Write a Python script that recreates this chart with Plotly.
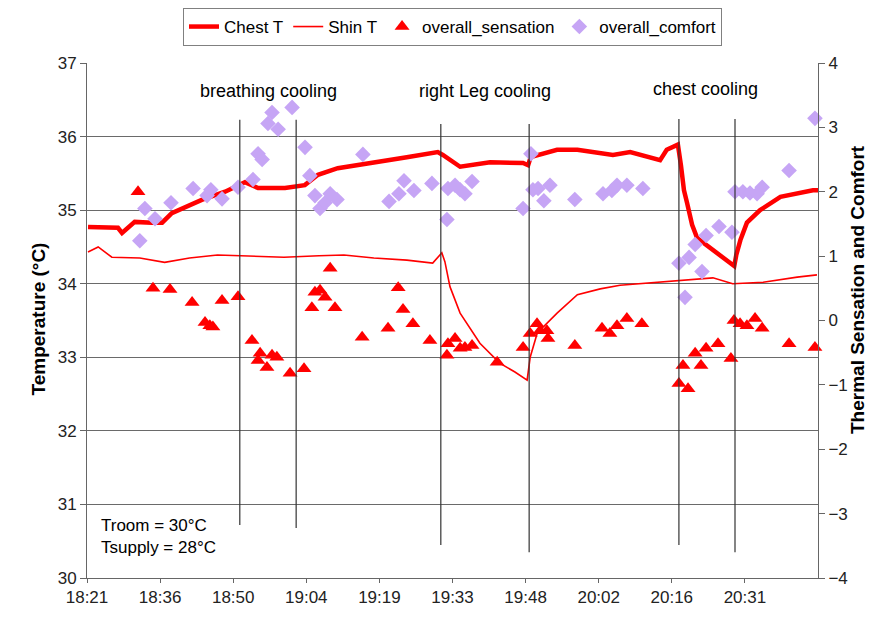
import plotly.graph_objects as go

# x values: minutes after 18:00
tick_vals = [21.6, 36.0, 50.4, 64.8, 79.2, 93.6, 108.0, 122.4, 136.8, 151.2]
tick_text = ["18:21", "18:36", "18:50", "19:04", "19:19", "19:33", "19:48", "20:02", "20:16", "20:31"]

chest_t_min = [21.8, 24.2, 27.7, 28.5, 31.0, 34.4, 36.4, 38.3, 40.9, 44.2, 48.8, 52.7, 55.3, 60.6, 64.5,
               67.1, 71.0, 77.9, 84.6, 90.7, 91.7, 95.1, 101.0, 107.5, 108.5, 109.0, 114.2, 118.2,
               125.2, 128.6, 134.5, 135.8, 138.0, 138.6, 139.2, 139.8, 140.8, 141.8, 143.3, 144.9,
               146.3, 147.7, 149.1, 149.5, 150.3, 151.6, 154.2, 158.2, 161.5, 164.6, 165.6]
chest_t = [34.77, 34.76, 34.76, 34.69, 34.84, 34.83, 34.83, 34.96, 35.04, 35.14, 35.25, 35.38, 35.30,
           35.30, 35.34, 35.48, 35.57, 35.64, 35.72, 35.79, 35.75, 35.59, 35.65, 35.64, 35.61, 35.72,
           35.82, 35.82, 35.75, 35.79, 35.68, 35.82, 35.89, 35.61, 35.27, 35.10, 34.80, 34.62, 34.54,
           34.46, 34.39, 34.32, 34.24, 34.39, 34.59, 34.83, 35.00, 35.18, 35.23, 35.27, 35.27]

shin_t_min = [21.8, 23.8, 26.5, 32.0, 36.9, 41.8, 47.3, 53.6, 60.4, 67.3, 72.2, 78.1, 84.6, 89.7,
              91.5, 92.1, 93.1, 95.1, 97.0, 99.0, 102.9, 105.9, 108.3, 108.9, 110.3, 114.2, 118.2,
              122.7, 126.6, 131.9, 138.0, 144.9, 148.8, 154.8, 161.5, 165.4]
shin_t = [34.43, 34.50, 34.36, 34.35, 34.29, 34.35, 34.39, 34.38, 34.36, 34.38, 34.39, 34.35, 34.32,
          34.28, 34.42, 34.30, 33.96, 33.60, 33.40, 33.19, 32.92, 32.80, 32.69, 33.00, 33.33, 33.60,
          33.85, 33.93, 33.98, 34.01, 34.05, 34.08, 34.00, 34.02, 34.09, 34.12]

sens_min = [31.65, 34.6, 37.95, 42.3, 44.85, 45.8, 46.4, 48.2, 51.35, 54.1, 55.3, 55.7, 57.05, 58.05,
            59.0, 61.6, 64.35, 65.9, 66.5, 67.5, 68.5, 69.5, 70.45, 75.8, 80.9, 82.9, 83.85, 85.8,
            89.15, 92.5, 92.7, 94.1, 95.1, 96.05, 97.45, 102.4, 107.5, 108.9, 110.25, 110.85, 112.2,
            112.4, 117.7, 123.05, 124.6, 126.0, 127.95, 130.9, 138.2, 139.0, 140.0, 141.4, 142.55,
            143.55, 145.9, 148.45, 149.05, 150.25, 151.6, 153.2, 154.6, 159.9, 165.0]
sensation = [2.0, 0.5, 0.48, 0.28, -0.03, -0.08, -0.1, 0.31, 0.37, -0.31, -0.62, -0.51, -0.73, -0.54,
             -0.57, -0.82, -0.75, 0.2, 0.44, 0.47, 0.36, 0.81, 0.2, -0.26, -0.12, 0.51, 0.17, -0.05,
             -0.31, -0.54, -0.36, -0.28, -0.43, -0.42, -0.39, -0.65, -0.42, -0.2, -0.05, -0.16, -0.16,
             -0.28, -0.39, -0.12, -0.2, -0.08, 0.03, -0.05, -0.98, -0.7, -1.06, -0.51, -0.7,
             -0.43, -0.36, -0.59, 0.0, -0.05, -0.08, 0.03, -0.12, -0.36, -0.42]

comf_min = [32.0, 33.0, 35.0, 38.15, 42.5, 45.25, 46.0, 48.2, 51.35, 54.3, 55.3, 56.1, 57.25, 58.05,
            59.25, 62.0, 64.55, 65.5, 66.5, 67.5, 68.5, 69.5, 70.85, 75.95, 81.1, 83.05, 84.05, 86.0,
            89.55, 92.5, 92.7, 94.1, 95.1, 96.05, 97.45, 107.5, 109.05, 109.45, 110.45, 111.6, 112.8,
            117.7, 123.25, 125.0, 126.0, 127.95, 131.1, 138.2, 139.4, 140.2, 141.4, 142.75, 143.55,
            146.1, 148.65, 149.25, 150.8, 152.2, 153.6, 154.6, 159.9, 165.0]
comfort = [1.24, 1.74, 1.58, 1.83, 2.05, 1.94, 2.03, 1.89, 2.07, 2.19, 2.59, 2.5, 3.06, 3.23,
           2.97, 3.31, 2.69, 2.25, 1.94, 1.74, 1.83, 1.97, 1.88, 2.58, 1.85, 1.97, 2.17, 2.02,
           2.13, 1.57, 2.05, 2.1, 2.03, 1.97, 2.16, 1.74, 2.59, 2.03, 2.05, 1.86, 2.1,
           1.88, 1.97, 2.02, 2.1, 2.1, 2.05, 0.89, 0.36, 0.98, 1.18, 0.76, 1.32,
           1.46, 1.37, 2.0, 2.0, 1.98, 1.97, 2.07, 2.33, 3.14]

# cooling event markers (minutes after 18:00) with their vertical extent (°C)
event_min = [51.7, 62.8, 91.3, 108.7, 138.2, 149.25]
event_top = [36.23, 36.23, 36.17, 36.17, 36.24, 36.24]
event_bottom = [30.72, 30.68, 30.45, 30.35, 30.45, 30.35]
event_labels = ["breathing cooling", "right Leg cooling", "chest cooling"]
event_label_min = [57.3, 100.0, 143.35]
event_label_t = [36.62, 36.62, 36.65]

FONT = "Liberation Sans, Arial, sans-serif"
RED = "#FF0000"
LILAC = "#C6A5F5"

fig = go.Figure()
fig.add_trace(go.Scatter(x=chest_t_min, y=chest_t, mode="lines", name="Chest T",
                         line=dict(color=RED, width=4.5)))
fig.add_trace(go.Scatter(x=shin_t_min, y=shin_t, mode="lines", name="Shin T",
                         line=dict(color=RED, width=1.6)))
fig.add_trace(go.Scatter(x=sens_min, y=sensation, mode="markers", name="overall_sensation",
                         yaxis="y2", cliponaxis=False,
                         marker=dict(symbol="triangle-up", size=13, color=RED)))
fig.add_trace(go.Scatter(x=comf_min, y=comfort, mode="markers", name="overall_comfort",
                         yaxis="y2", cliponaxis=False,
                         marker=dict(symbol="diamond", size=12, color=LILAC)))

shapes = []
for xm, yt, yb in zip(event_min, event_top, event_bottom):
    shapes.append(dict(type="line", xref="x", yref="y", x0=xm, x1=xm, y0=yb, y1=yt,
                       line=dict(color="#333333", width=1.2)))

annotations = []
for txt, xm, yt in zip(event_labels, event_label_min, event_label_t):
    annotations.append(dict(x=xm, y=yt, xref="x", yref="y", text=txt, showarrow=False,
                            font=dict(size=18, color="black", family=FONT)))
annotations.append(dict(x=24.0, y=30.72, xref="x", yref="y", text="Troom = 30°C", showarrow=False,
                        xanchor="left", font=dict(size=17, color="black", family=FONT)))
annotations.append(dict(x=24.0, y=30.41, xref="x", yref="y", text="Tsupply = 28°C", showarrow=False,
                        xanchor="left", font=dict(size=17, color="black", family=FONT)))
annotations.append(dict(x=-0.0834, y=0.503, xref="paper", yref="paper", text="<b>Temperature (°C)</b>",
                        showarrow=False, textangle=-90, font=dict(size=19, color="black", family=FONT)))
annotations.append(dict(x=1.071, y=0.56, xref="paper", yref="paper",
                        text="<b>Thermal Sensation and Comfort</b>",
                        showarrow=False, textangle=-90, font=dict(size=19, color="black", family=FONT)))

fig.update_layout(
    template="none",
    width=872, height=609,
    margin=dict(l=79, r=62, t=55, b=39, autoexpand=False),
    paper_bgcolor="white", plot_bgcolor="white",
    font=dict(family=FONT, size=17, color="black"),
    showlegend=True,
    legend=dict(orientation="h", x=0.5, xanchor="center", xref="paper",
                y=1.0, yanchor="top", yref="container",
                bordercolor="#808080", borderwidth=1, bgcolor="white",
                font=dict(size=17, family=FONT), itemwidth=30, tracegroupgap=0),
    xaxis=dict(range=[21.6, 165.6], tickvals=tick_vals, ticktext=tick_text, showgrid=False,
               showline=True, linecolor="#666666", linewidth=1, ticks="outside", ticklen=4,
               tickcolor="#666666", zeroline=False, automargin=False,
               tickfont=dict(size=17, color="#222222")),
    yaxis=dict(range=[30, 37], dtick=1, showgrid=True, gridcolor="#6a6a6a", gridwidth=1,
               showline=True, linecolor="#666666", linewidth=1, ticks="outside", ticklen=6,
               tickcolor="#666666", zeroline=False, automargin=False,
               tickfont=dict(size=17, color="#222222")),
    yaxis2=dict(range=[-4, 4], dtick=1, overlaying="y", side="right", showgrid=False,
                showline=True, linecolor="#666666", linewidth=1, ticks="outside", ticklen=6,
                tickcolor="#666666", zeroline=False, automargin=False,
                tickfont=dict(size=17, color="#222222")),
    shapes=shapes,
    annotations=annotations,
)

fig.write_html("out.html")
